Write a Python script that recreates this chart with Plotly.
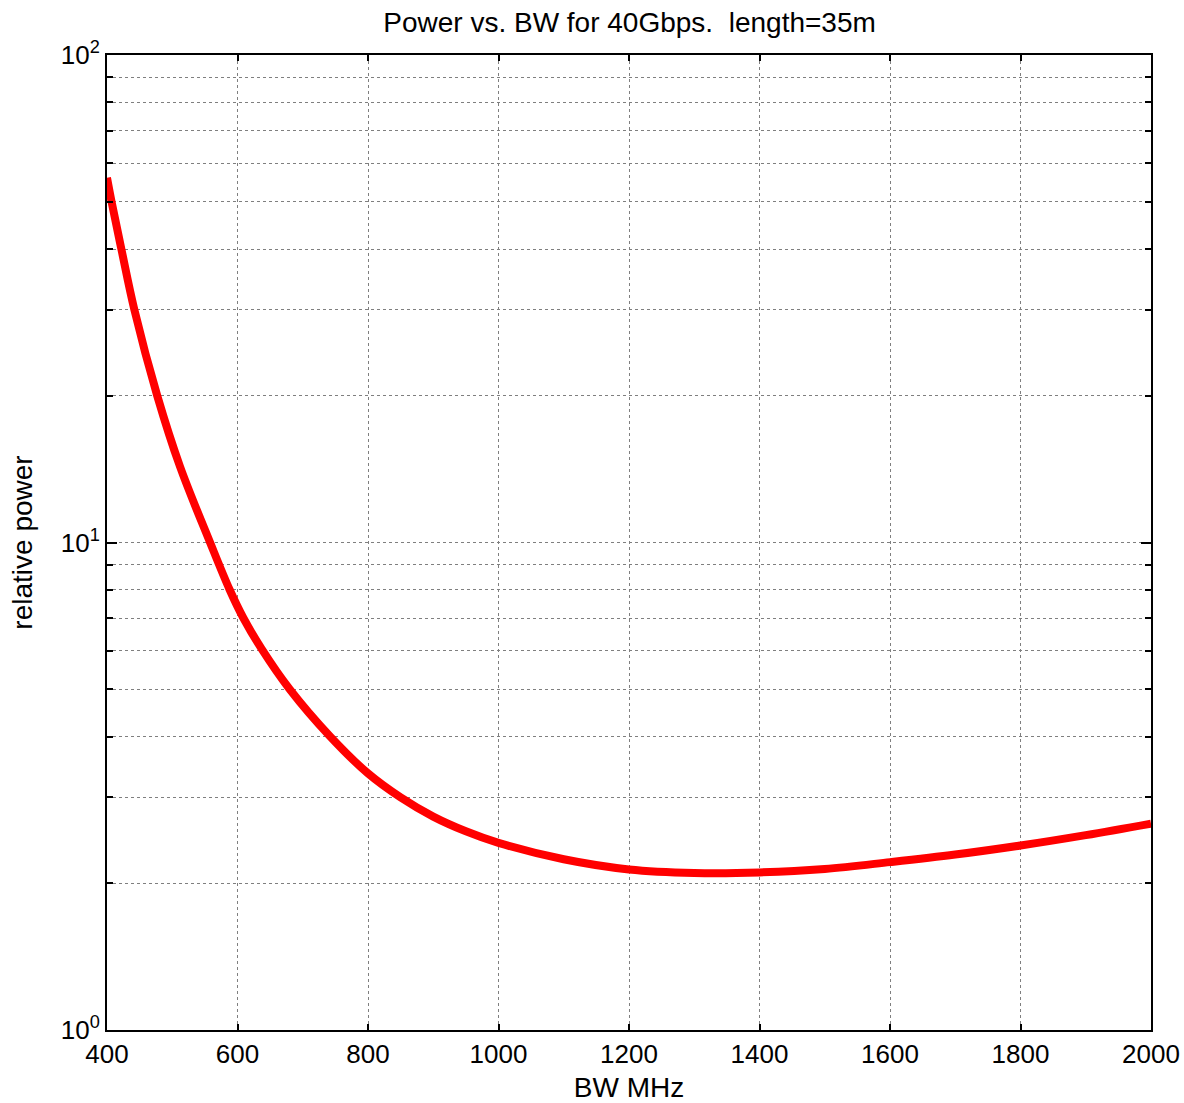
import plotly.graph_objects as go

bw_mhz = [400, 407, 422, 442, 477, 512, 558, 588, 609, 637, 680, 742,
          800, 850, 900, 950, 1000, 1100, 1200, 1300, 1400, 1500,
          1600, 1700, 1800, 1900, 2000]
rel_power = [56, 50, 40, 30, 20, 14.3, 10, 8, 7, 6.05, 5, 4,
             3.36, 3.0, 2.74, 2.556, 2.42, 2.24, 2.135, 2.10, 2.105, 2.14,
             2.21, 2.29, 2.39, 2.51, 2.65]

x_ticks = [400, 600, 800, 1000, 1200, 1400, 1600, 1800, 2000]
y_major = [1, 10, 100]
y_major_text = ["10<sup>0</sup>", "10<sup>1</sup>", "10<sup>2</sup>"]
y_minor = [2, 3, 4, 5, 6, 7, 8, 9, 20, 30, 40, 50, 60, 70, 80, 90]

FONT = "Liberation Sans, Arial, sans-serif"

fig = go.Figure()
fig.add_trace(go.Scatter(
    x=bw_mhz, y=rel_power, mode="lines",
    line=dict(color="#ff0000", width=8, shape="spline", smoothing=1.0),
    showlegend=False,
))

fig.update_layout(
    width=1184, height=1103,
    margin=dict(l=107, r=33, t=55, b=73),
    paper_bgcolor="white", plot_bgcolor="white",
    font=dict(family=FONT, size=26, color="black"),
    title=dict(text="Power vs. BW for 40Gbps.  length=35m", x=0.5317, xanchor="center",
               y=0.98, yanchor="middle", font=dict(size=28, family=FONT, color="black")),
)

fig.update_xaxes(
    range=[400, 2000], tickmode="array", tickvals=x_ticks,
    ticktext=[str(v) for v in x_ticks], automargin=False,
    showline=True, linecolor="black", linewidth=2, mirror="allticks",
    ticks="inside", ticklen=6, tickwidth=1.5, tickcolor="black",
    showgrid=True, gridcolor="#7f7f7f", griddash="dot", gridwidth=1,
    zeroline=False,
    title=dict(text="BW MHz", standoff=14, font=dict(size=28, family=FONT)),
    tickfont=dict(size=26, family=FONT),
)

fig.update_yaxes(
    type="log", range=[0, 2], tickmode="array", tickvals=y_major, ticktext=y_major_text,
    automargin=False,
    showline=True, linecolor="black", linewidth=2, mirror="allticks",
    ticks="inside", ticklen=10, tickwidth=1.5, tickcolor="black",
    showgrid=True, gridcolor="#7f7f7f", griddash="dot", gridwidth=1,
    minor=dict(tickmode="array", tickvals=y_minor, ticks="inside", ticklen=6,
               tickwidth=1.5, tickcolor="black",
               showgrid=True, gridcolor="#7f7f7f", griddash="dot", gridwidth=1),
    zeroline=False,
    title=dict(text="relative power", standoff=20, font=dict(size=28, family=FONT)),
    tickfont=dict(size=26, family=FONT),
)

fig.write_html("out.html")
